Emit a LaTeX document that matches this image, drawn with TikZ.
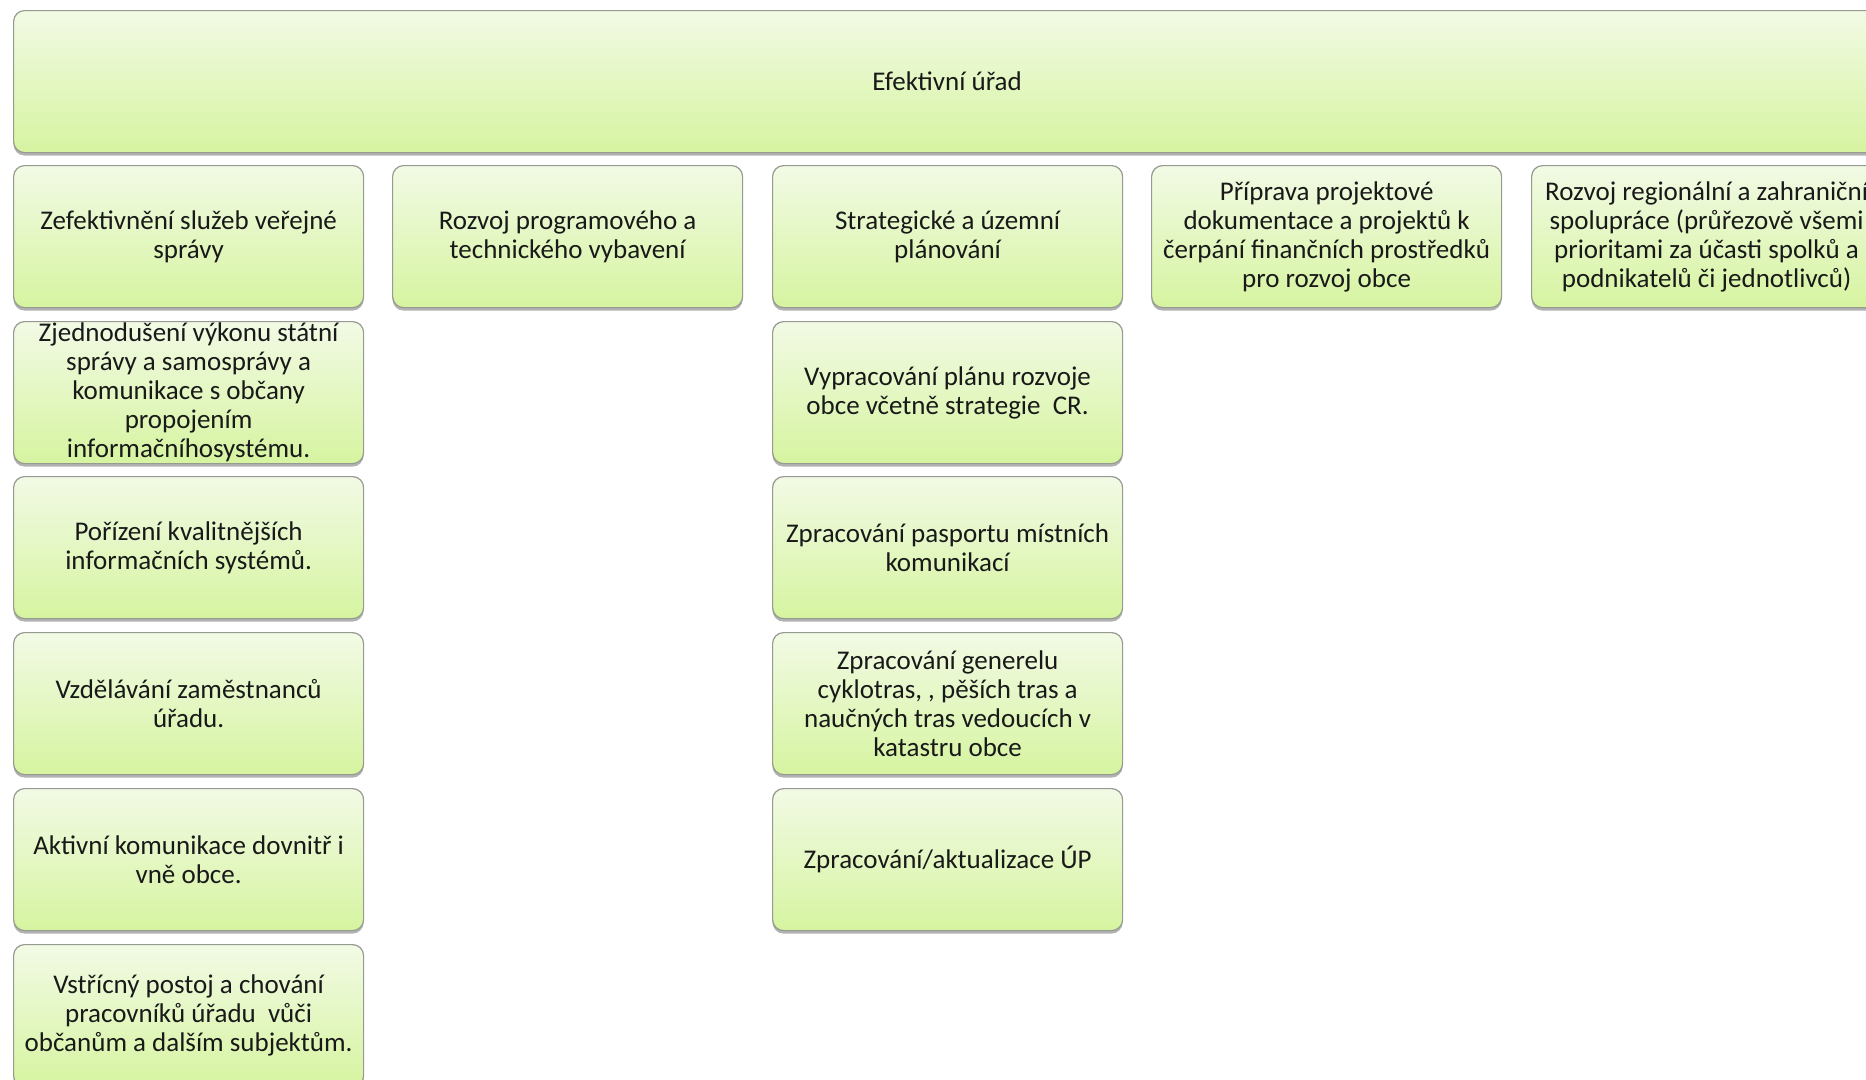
\documentclass[tikz,border=0pt]{standalone}
\usepackage{fontspec}
\setmainfont{Carlito}
\usetikzlibrary{shadows}
\definecolor{boxtop}{RGB}{242,250,229}
\definecolor{boxbot}{RGB}{214,244,160}
\definecolor{boxline}{RGB}{150,155,145}
\begin{document}
\begin{tikzpicture}[x=1pt,y=-1pt,
  box/.style={draw=boxline, line width=1.2pt, rounded corners=11pt,
    top color=boxtop, bottom color=boxbot,
    minimum width=350pt, minimum height=142pt, inner sep=0pt,
    align=center, anchor=north west, text=black!90,
    font=\fontsize{27}{29}\selectfont,
    drop shadow={shadow xshift=0pt, shadow yshift=-3pt, opacity=0.3, fill=black}},
  topbox/.style={box, minimum width=1867pt}]
\useasboundingbox (0,0) rectangle (1866,1079);
\clip (0,0) rectangle (1866,1079);
\fill[white] (0,0) rectangle (1866,1079);
% top
\node[topbox] (top) at (13,10) {Efektivní úřad};
% row 1
\node[box] (c1) at (13,165) {Zefektivnění služeb veřejné\\správy};
\node[box] (c2) at (392,165) {Rozvoj programového a\\technického vybavení};
\node[box] (c3) at (772,165) {Strategické a územní\\plánování};
\node[box] (c4) at (1151,165) {Příprava projektové\\dokumentace a projektů k\\čerpání finančních prostředků\\pro rozvoj obce};
\node[box] (c5) at (1531,165) {Rozvoj regionální a zahraniční\\spolupráce (průřezově všemi\\prioritami za účasti spolků a\\podnikatelů či jednotlivců)};
% column 1
\node[box] (a1) at (13,321) {Zjednodušení výkonu státní\\správy a samosprávy a\\komunikace s občany\\propojením\\informačníhosystému.};
\node[box] (a2) at (13,476) {Pořízení kvalitnějších\\informačních systémů.};
\node[box] (a3) at (13,632) {Vzdělávání zaměstnanců\\úřadu.};
\node[box] (a4) at (13,788) {Aktivní komunikace dovnitř i\\vně obce.};
\node[box] (a5) at (13,944) {Vstřícný postoj a chování\\pracovníků úřadu\ \ vůči\\občanům a dalším subjektům.};
% column 3
\node[box] (b1) at (772,321) {Vypracování plánu rozvoje\\obce včetně strategie\ \ CR.};
\node[box] (b2) at (772,476) {Zpracování pasportu místních\\komunikací};
\node[box] (b3) at (772,632) {Zpracování generelu\\cyklotras, , pěších tras a\\naučných tras vedoucích v\\katastru obce};
\node[box] (b4) at (772,788) {Zpracování/aktualizace ÚP};
\end{tikzpicture}
\end{document}
